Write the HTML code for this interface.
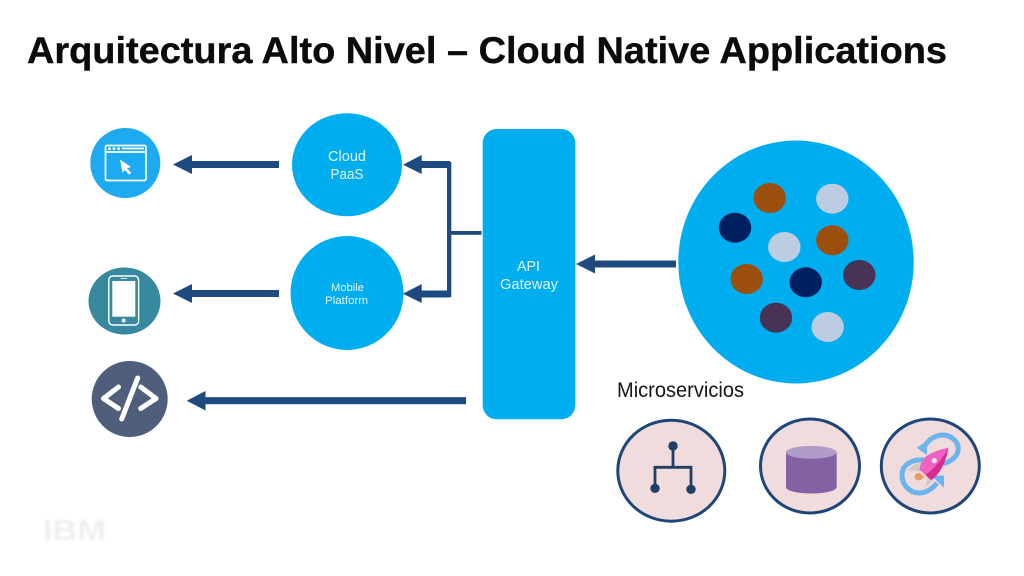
<!DOCTYPE html>
<html lang="es">
<head>
<meta charset="utf-8">
<title>Arquitectura Alto Nivel – Cloud Native Applications</title>
<style>
html,body{margin:0;padding:0;background:#fff;width:1024px;height:576px;overflow:hidden}
svg{display:block}
text{font-family:"Liberation Sans",sans-serif}
</style>
</head>
<body>
<svg width="1024" height="576" viewBox="0 0 1024 576" xmlns="http://www.w3.org/2000/svg">
<defs><filter id="b" x="-10%" y="-20%" width="120%" height="140%"><feGaussianBlur stdDeviation="1"/></filter></defs>
<rect width="1024" height="576" fill="#fff"/>
<text x="27" y="63" font-size="37" font-weight="700" fill="#0b0b0b" textLength="920" lengthAdjust="spacingAndGlyphs" stroke="#0b0b0b" stroke-width="0.4">Arquitectura Alto Nivel – Cloud Native Applications</text>

<!-- Left icons -->
<ellipse cx="125.3" cy="163" rx="35" ry="35" fill="#1eaaf1"/>
<g fill="none" stroke="#fff" stroke-width="1.7">
<rect x="105.5" y="145.5" width="40.5" height="35" rx="1.5"/>
<path d="M105.5 152H146"/><path d="M122 148.5H144"/>
</g>
<g fill="#fff"><circle cx="109.5" cy="148.6" r="1.4"/><circle cx="114" cy="148.6" r="1.4"/><circle cx="118.6" cy="148.6" r="1.4"/>
<path d="M120 159.5L131 167L127 168.2L131.2 172.8L128.8 174.6L125 170L122.5 172.8Z"/></g>

<ellipse cx="124.5" cy="301" rx="36" ry="33.5" fill="#36899f"/>
<rect x="108.8" y="276" width="29.8" height="49" rx="4" fill="none" stroke="#fff" stroke-width="1.4"/>
<rect x="112.3" y="281" width="23" height="35.7" fill="#fff"/>
<circle cx="123.7" cy="320.5" r="2" fill="#fff"/>
<path d="M120.5 278.6H127" stroke="#fff" stroke-width="0.8"/>

<ellipse cx="129.7" cy="399" rx="38" ry="38" fill="#4f5f7b"/>
<g fill="none" stroke="#fff" stroke-width="5" stroke-linecap="round" stroke-linejoin="round">
<path d="M118.5 387L103.5 398.5L118.5 408.5"/>
<path d="M140.7 387L156 398.5L140.7 408.5"/>
<path d="M137.7 378L121.7 419"/>
</g>

<!-- Left arrows -->
<g fill="#1f4a80">
<rect x="190" y="161" width="89" height="7"/><path d="M173 164.5L192 155V174Z"/>
<rect x="190" y="290" width="89" height="7"/><path d="M173 293.5L192 284V303Z"/>
<rect x="203" y="397.2" width="263" height="7"/><path d="M186.7 400.7L205.5 391V410.5Z"/>
</g>

<!-- Blue nodes -->
<ellipse cx="347" cy="164.7" rx="55" ry="51.5" fill="#00aeef"/>
<ellipse cx="347" cy="293" rx="56.5" ry="57" fill="#00aeef"/>
<rect x="482.7" y="129" width="92.6" height="290.3" rx="14" fill="#00aeef"/>

<text x="347" y="161" font-size="15" fill="#e2f5fd" text-anchor="middle" textLength="38" lengthAdjust="spacingAndGlyphs">Cloud</text>
<text x="347" y="179" font-size="15" fill="#e2f5fd" text-anchor="middle" textLength="33" lengthAdjust="spacingAndGlyphs">PaaS</text>
<text x="347.5" y="291" font-size="11" fill="#e2f5fd" text-anchor="middle" textLength="33" lengthAdjust="spacingAndGlyphs">Mobile</text>
<text x="346.5" y="304" font-size="11" fill="#e2f5fd" text-anchor="middle" textLength="43" lengthAdjust="spacingAndGlyphs">Platform</text>
<text x="528.5" y="271" font-size="15" fill="#e2f5fd" text-anchor="middle" textLength="23" lengthAdjust="spacingAndGlyphs">API</text>
<text x="529" y="289" font-size="15" fill="#e2f5fd" text-anchor="middle" textLength="58" lengthAdjust="spacingAndGlyphs">Gateway</text>

<!-- Gateway connectors -->
<g fill="#1f4a80">
<rect x="420" y="161" width="30" height="7"/><path d="M403 164.7L421.7 155V174Z"/>
<rect x="420" y="290.5" width="30" height="7"/><path d="M403 293.8L421.7 284V303Z"/>
<rect x="447" y="162" width="4.3" height="135"/>
<rect x="450" y="231" width="31.5" height="3.8"/>
<rect x="593" y="260.5" width="83" height="7"/><path d="M576 264L595 254.5V273.5Z"/>
</g>

<!-- Big circle -->
<ellipse cx="796" cy="262" rx="117.7" ry="121.5" fill="#00aeef"/>
<g>
<ellipse cx="769.7" cy="198" rx="16.2" ry="15" fill="#9c4f0c"/>
<ellipse cx="832.3" cy="198.7" rx="16.2" ry="15" fill="#bccde3"/>
<ellipse cx="735" cy="227.7" rx="16.2" ry="15" fill="#00205f"/>
<ellipse cx="784.3" cy="247" rx="16.2" ry="15" fill="#bccde3"/>
<ellipse cx="832.3" cy="240.3" rx="16.2" ry="15" fill="#9c4f0c"/>
<ellipse cx="859.3" cy="275" rx="16.2" ry="15" fill="#483356"/>
<ellipse cx="805.7" cy="282.3" rx="16.2" ry="15" fill="#00205f"/>
<ellipse cx="746.7" cy="279" rx="16.2" ry="15" fill="#9c4f0c"/>
<ellipse cx="776" cy="317.7" rx="16.2" ry="15" fill="#483356"/>
<ellipse cx="827.7" cy="327" rx="16.2" ry="15" fill="#bccde3"/>
</g>

<text x="617" y="397" font-size="21" fill="#161616" textLength="127" lengthAdjust="spacingAndGlyphs">Microservicios</text>

<!-- Bottom circles -->
<g fill="#f0dcdc" stroke="#1f4678" stroke-width="3">
<ellipse cx="671.3" cy="470.7" rx="53.5" ry="50.5"/>
<ellipse cx="810" cy="466" rx="49.5" ry="47"/>
<ellipse cx="930.3" cy="466" rx="49" ry="47"/>
</g>

<!-- Tree icon -->
<g fill="none" stroke="#1f3f66" stroke-width="2.8">
<path d="M673 446V467.3"/><path d="M655 488V467.3H691V489"/>
</g>
<g fill="#1f3f66"><circle cx="673" cy="446" r="4.7"/><circle cx="655" cy="488.3" r="4.7"/><circle cx="691" cy="489.3" r="4.7"/></g>

<!-- Cylinder -->
<path d="M786 452.3V487C786 491 798 493.5 811.3 493.5S836.7 491 836.7 487V452.3Z" fill="#8361a3"/>
<ellipse cx="811.3" cy="452.3" rx="25.3" ry="6.4" fill="#b09cc8"/>

<!-- Rocket icon -->
<g fill="none" stroke="#6cb4ee" stroke-width="5">
<path d="M924 447C929 438 938 434.500 944 435C953 436 958.500 443 958.300 449C958 456 951 462 943 463.500"/>
<path d="M924 460C910 459 902.500 466 902 474C901.500 485 910 493 919 493C927 493 933 488 937 483"/>
</g>
<path d="M916.700 447.700L927 441V455Z" fill="#6cb4ee"/>
<path d="M944 475.500V487.500L931 475.500Z" fill="#6cb4ee"/>
<path d="M906.700 471C911 465 918 462.500 924 463L921 472C916 470 911 470 906.700 471Z" fill="#d3c8c8"/>
<path d="M925 487C930 484 934 480 935 474L927 472C928 478 927 483 925 487Z" fill="#d3c8c8"/>
<path d="M914.500 477C915 473 918 472 921 473.500L924 477C922 481 916 482 914.500 477Z" fill="#ef9a6c"/>
<path d="M948.300 447.700C939 449.500 931 452.500 926 456.500C922.500 460 920 464.500 919.500 469.500L931 480C939 475 945.500 464 948.300 447.700Z" fill="#ee62c4"/>
<path d="M948.300 447.700C945.500 464 939 475 931 480L925.500 475C935 468 943 458 948.300 447.700Z" fill="#d92b8c"/>
<circle cx="934.300" cy="460.700" r="2.600" fill="#fbe6f3"/>

<!-- Faint logo -->
<text x="43" y="540" font-size="29" font-weight="700" fill="#efefef" textLength="63" lengthAdjust="spacingAndGlyphs" filter="url(#b)">IBM</text>
</svg>
</body>
</html>
